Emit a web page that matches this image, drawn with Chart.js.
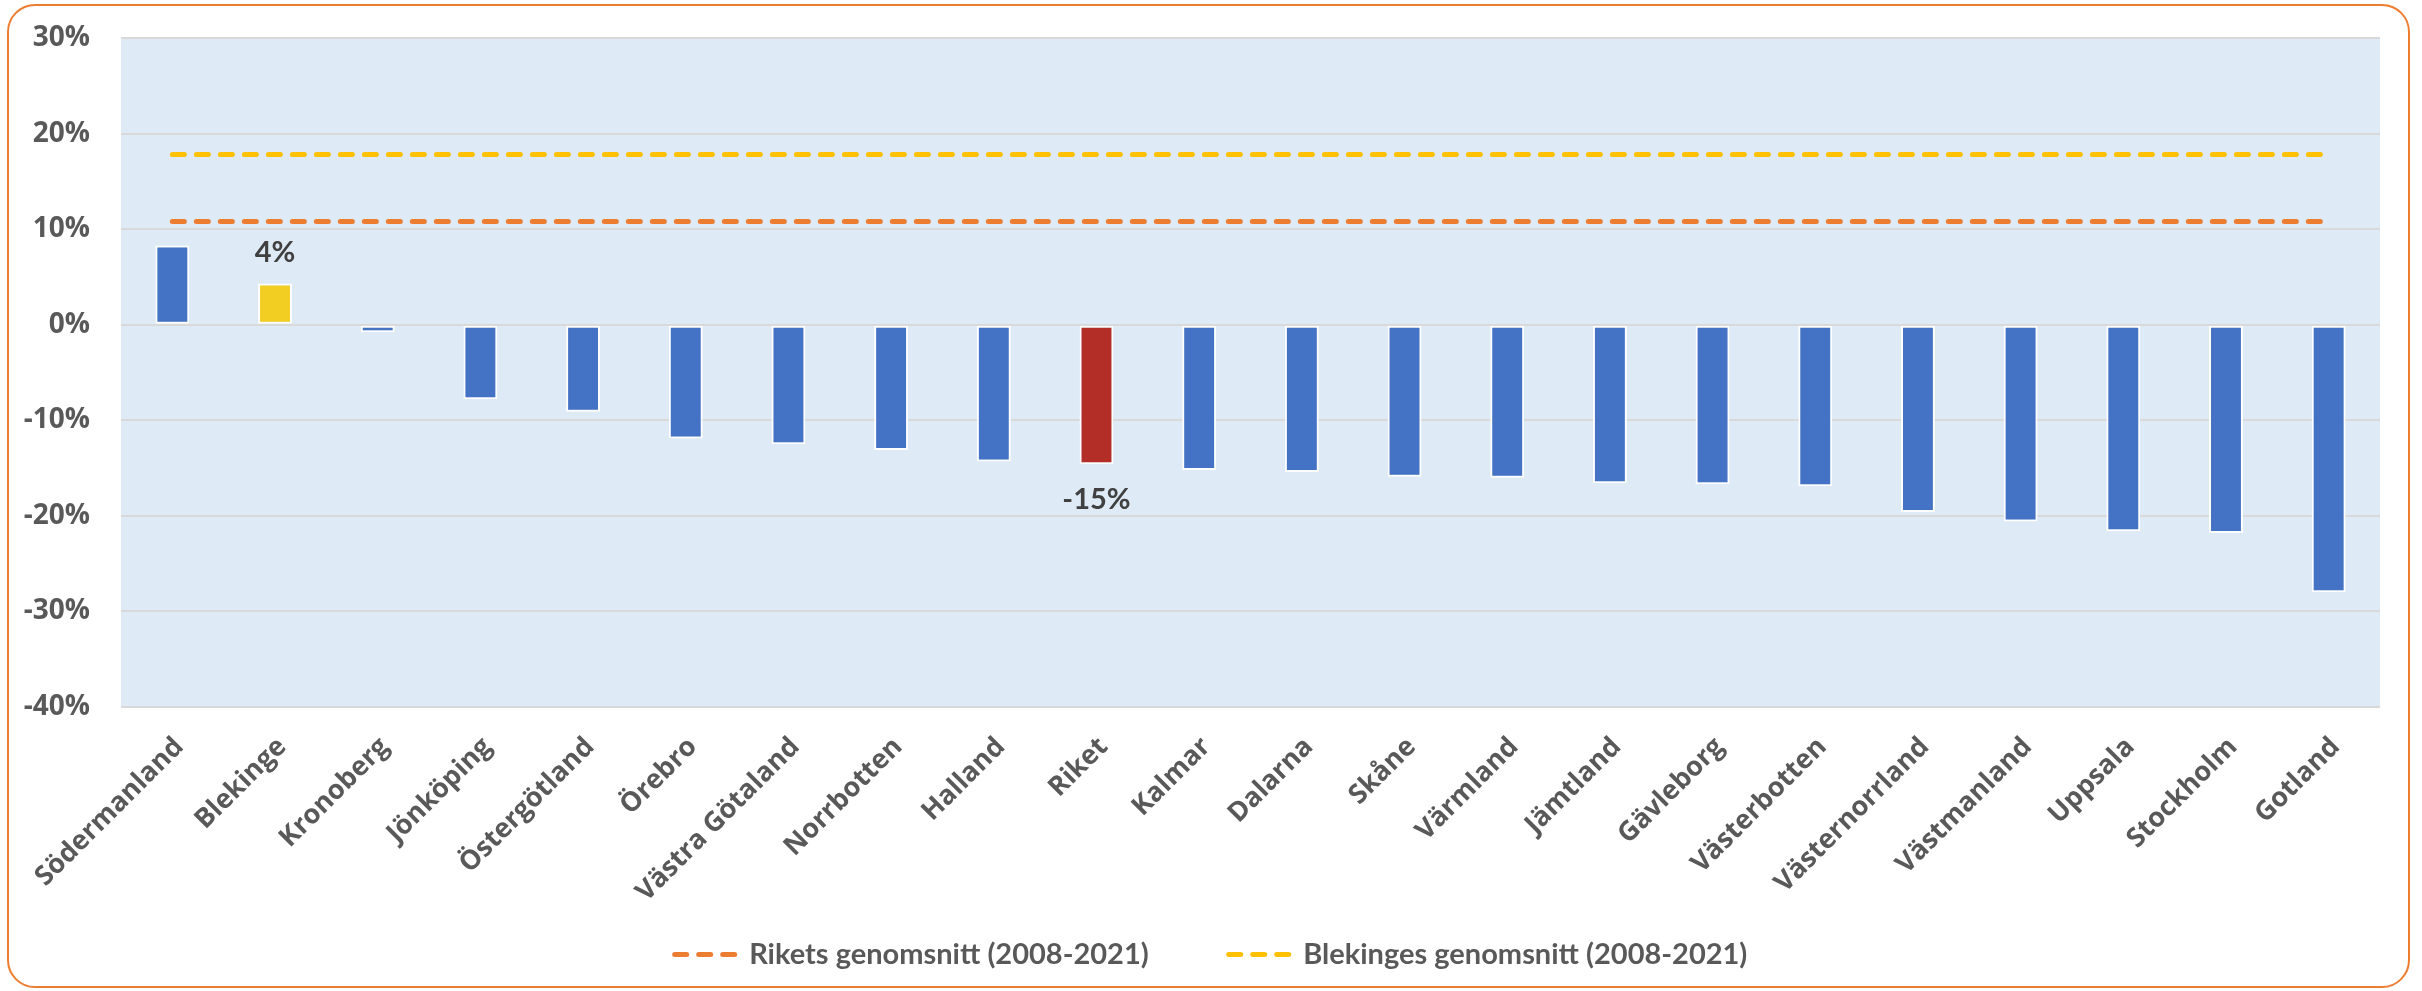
<!DOCTYPE html>
<html><head><meta charset="utf-8">
<script src="https://cdn.jsdelivr.net/npm/chart.js@4.4.0/dist/chart.umd.min.js"></script>
<style>
html,body{margin:0;padding:0;background:#fff;}
#wrap{position:relative;width:2422px;height:991px;overflow:hidden;}
#frame{position:absolute;left:7px;top:4px;width:2403px;height:984px;border:2px solid #ED7D31;border-radius:28px;box-sizing:border-box;pointer-events:none;}
canvas{position:absolute;left:0;top:0;}
</style></head><body>
<div id="wrap"><canvas id="c" width="2422" height="991"></canvas><div id="frame"></div></div>
<script>
// ---- data ----
const categories = ['Södermanland','Blekinge','Kronoberg','Jönköping','Östergötland','Örebro','Västra Götaland','Norrbotten','Halland','Riket','Kalmar','Dalarna','Skåne','Värmland','Jämtland','Gävleborg','Västerbotten','Västernorrland','Västmanland','Uppsala','Stockholm','Gotland'];
const changeValues = [8.3, 4.3, -0.8, -7.8, -9.1, -11.9, -12.5, -13.1, -14.3, -14.6, -15.2, -15.4, -15.9, -16.0, -16.6, -16.7, -16.9, -19.6, -20.6, -21.6, -21.8, -28.0];
const riketsAvg = [10.8,10.8,10.8,10.8,10.8,10.8,10.8,10.8,10.8,10.8,10.8,10.8,10.8,10.8,10.8,10.8,10.8,10.8,10.8,10.8,10.8,10.8];
const blekingesAvg = [17.8,17.8,17.8,17.8,17.8,17.8,17.8,17.8,17.8,17.8,17.8,17.8,17.8,17.8,17.8,17.8,17.8,17.8,17.8,17.8,17.8,17.8];
const seriesNames = ['Förändring', 'Rikets genomsnitt (2008-2021)', 'Blekinges genomsnitt (2008-2021)'];
const labeledCategories = ['Blekinge', 'Riket'];
const yTicks = { min: -40, max: 30, step: 10 };

// ---- styles ----
const BLUE = '#4472C4';
const highlightColors = { 'Blekinge': '#F2CD22', 'Riket': '#B22E27' };
const TEXT = '#595959';

const plotBg = {
  id: 'plotBg',
  beforeDraw(chart) {
    const a = chart.chartArea, ctx = chart.ctx;
    ctx.save();
    ctx.fillStyle = '#DEEAF6';
    ctx.fillRect(a.left, a.top, a.right - a.left, a.bottom - a.top);
    ctx.restore();
  }
};
const valueLabels = {
  id: 'valueLabels',
  afterDatasetsDraw(chart) {
    const meta = chart.getDatasetMeta(0), ctx = chart.ctx;
    ctx.save();
    ctx.font = 'bold 29px Lato, sans-serif';
    ctx.fillStyle = '#404040';
    ctx.textAlign = 'center';
    ctx.textBaseline = 'middle';
    meta.data.forEach((bar, i) => {
      if (!labeledCategories.includes(categories[i])) return;
      const v = changeValues[i];
      const y = v >= 0 ? bar.y - 31 : bar.y + 35;
      ctx.fillText(Math.round(v) + '%', bar.x, y);
    });
    ctx.restore();
  }
};
// place the legend: centred on the canvas, text centre near y=953
const legendPlace = {
  id: 'legendPlace',
  afterLayout(chart) {
    const lg = chart.legend;
    if (!lg || !lg.lineWidths) return;
    const pad = lg.options.labels.padding;
    const content = lg.lineWidths[0] - pad;
    const curStart = (lg.left + pad + lg.right - lg.lineWidths[0]) / 2;
    const wantStart = chart.width / 2 - content / 2;
    const d = wantStart - curStart;
    lg.left += d; lg.right += d;
    lg.top = 860; lg.bottom = chart.height; lg.height = lg.bottom - lg.top;
  }
};

new Chart(document.getElementById('c'), {
  data: {
    labels: categories,
    datasets: [
      { type: 'bar', label: seriesNames[0], data: changeValues,
        backgroundColor: categories.map(c => highlightColors[c] || BLUE),
        borderColor: '#ffffff', borderWidth: 2, borderSkipped: false,
        categoryPercentage: 1, barPercentage: 0.33, order: 2 },
      { type: 'line', label: seriesNames[1], data: riketsAvg,
        borderColor: '#ED7D31', backgroundColor: '#ED7D31', borderWidth: 5,
        borderDash: [12, 12], borderCapStyle: 'round', pointRadius: 0, order: 1 },
      { type: 'line', label: seriesNames[2], data: blekingesAvg,
        borderColor: '#FFC000', backgroundColor: '#FFC000', borderWidth: 5,
        borderDash: [12, 12], borderCapStyle: 'round', pointRadius: 0, order: 1 }
    ]
  },
  options: {
    responsive: false,
    animation: false,
    layout: { padding: { top: 38, right: 42, bottom: 22, left: 0 } },
    plugins: {
      tooltip: { enabled: false },
      legend: {
        position: 'bottom',
        maxHeight: 40,
        labels: {
          filter: (item) => item.datasetIndex > 0,
          generateLabels(chart) {
            return Chart.defaults.plugins.legend.labels.generateLabels(chart).map(item => {
              const ds = chart.data.datasets[item.datasetIndex];
              return Object.assign(item, {
                lineDash: ds.borderDash, lineDashOffset: 0, lineWidth: ds.borderWidth,
                lineCap: ds.borderCapStyle, strokeStyle: ds.borderColor,
                fillStyle: ds.borderColor, pointStyle: 'line'
              });
            });
          },
          usePointStyle: true, pointStyle: 'line', pointStyleWidth: 60,
          padding: 80,
          color: TEXT,
          font: { family: 'Lato, sans-serif', weight: 'bold', size: 29 }
        }
      }
    },
    scales: {
      x: {
        grid: { display: false },
        border: { display: false },
        ticks: { color: TEXT, autoSkip: false, maxRotation: 45, minRotation: 45, padding: 16, labelOffset: 7,
          font: { family: '"Open Sans", sans-serif', weight: 'bold', size: 27 } },
        afterFit(s) { s.height = 222; }
      },
      y: {
        min: yTicks.min, max: yTicks.max,
        grid: { color: '#D9D9D9', lineWidth: 2, drawTicks: true, tickLength: 31, tickColor: 'rgba(0,0,0,0)' },
        border: { display: false },
        ticks: { stepSize: yTicks.step, color: TEXT, padding: 0,
          callback: v => v + '%',
          font: { family: '"Open Sans", sans-serif', weight: 'bold', size: 28 } },
        afterFit(s) { s.width = 121; }
      }
    }
  },
  plugins: [plotBg, valueLabels, legendPlace]
});
</script>
</body></html>
